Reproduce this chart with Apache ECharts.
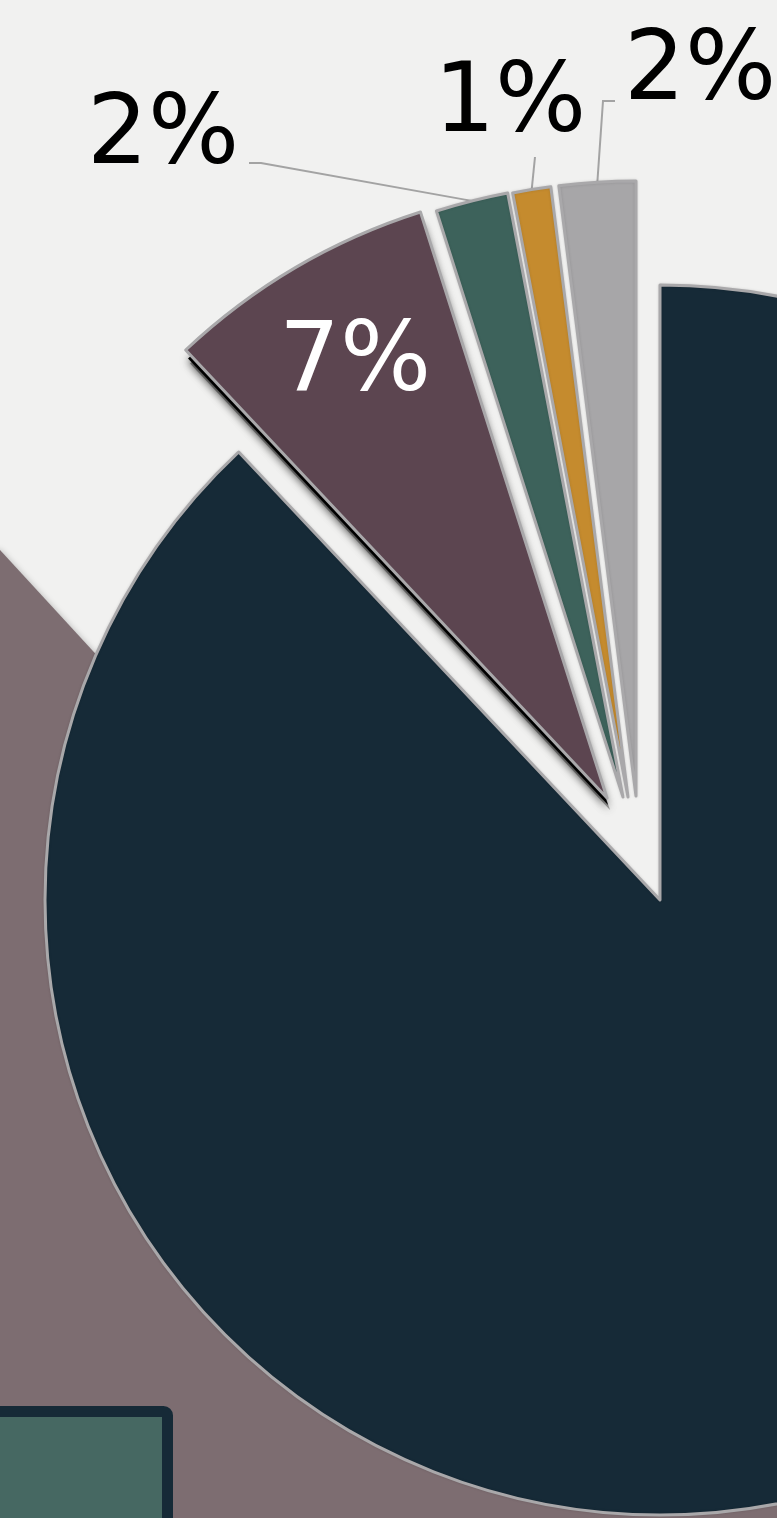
<!DOCTYPE html>
<html>
<head>
<meta charset="utf-8">
<script src="https://cdn.jsdelivr.net/npm/echarts@6/dist/echarts.min.js"></script>
<style>
  html, body { margin: 0; padding: 0; background: #f1f1f0; }
  #main { width: 777px; height: 1518px; }
</style>
</head>
<body>
<div id="main"></div>
<script>
// slice data (share of the whole, in %)
const names = ['Slice 1', 'Slice 2', 'Slice 3', 'Slice 4', 'Slice 5']
const values = [87.9, 7.1, 1.9, 1.0, 2.0]
const colors = ['#162a37', '#5c4550', '#3d625b', '#c58b2e', '#a7a6a8']

// every slice is pulled out on its own, so each one gets its own centre
const centers = [[660, 900], [607, 798], [623, 797], [628, 797], [636, 796]]
// label spots (left edge, middle of the digits) and the leader line bend
const labelSpots = [null, [279, 365], [87, 138], [434, 106], [624, 74]]
const leaderBends = [null, null, [[261, 163], [249, 163]], [[535, 157], [535, 157]], [[603, 101], [615, 101]]]

let myChart = echarts.init(document.getElementById('main'))

function hiddenItem (k) {
  return {
    name: names[k],
    value: values[k],
    itemStyle: { color: 'rgba(0,0,0,0)', borderWidth: 0, shadowBlur: 0 },
    label: { show: false },
    labelLine: { show: false }
  }
}

// black copies of the 7% slice, dropped a few pixels down, as its shadow
function shadowSeries (dx, dy, alpha, z) {
  return {
    type: 'pie',
    center: [centers[1][0] + dx, centers[1][1] + dy],
    radius: 613,
    startAngle: 90,
    silent: true,
    z: z,
    label: { show: false },
    labelLine: { show: false },
    data: values.map((v, k) => k !== 1 ? hiddenItem(k) : {
      name: names[k],
      value: v,
      itemStyle: {
        color: 'rgba(0,0,0,' + alpha + ')',
        borderWidth: 0,
        shadowBlur: 8,
        shadowColor: 'rgba(0,0,0,0.6)',
        shadowOffsetY: 2
      }
    })
  }
}

function sliceSeries (i) {
  return {
    type: 'pie',
    center: centers[i],
    radius: 615,
    startAngle: 90,
    clockwise: true,
    avoidLabelOverlap: false,
    silent: true,
    z: i === 0 ? 2 : 4 + i,
    label: {
      show: i > 0,
      position: i === 1 ? 'inside' : 'outside',
      formatter: p => Math.round(p.percent) + '%',
      fontFamily: 'DejaVu Sans',
      fontSize: 96,
      color: i === 1 ? '#ffffff' : '#000000'
    },
    labelLine: {
      show: i > 1,
      lineStyle: { color: '#a3a3a3', width: 2 }
    },
    labelLayout: p => {
      if (p.dataIndex !== i || !labelSpots[i]) return {}
      let res = { x: labelSpots[i][0], y: labelSpots[i][1], align: 'left', verticalAlign: 'middle' }
      if (leaderBends[i]) {
        let start = p.labelLinePoints ? p.labelLinePoints[0] : leaderBends[i][0]
        res.labelLinePoints = [start, leaderBends[i][0], leaderBends[i][1]]
      }
      return res
    },
    data: values.map((v, k) => k !== i ? hiddenItem(k) : {
      name: names[k],
      value: v,
      itemStyle: {
        color: colors[k],
        borderColor: '#a9a8aa',
        borderWidth: 3,
        borderJoin: 'round',
        shadowBlur: i === 1 ? 0 : 3,
        shadowColor: 'rgba(0,0,0,0.12)'
      }
    })
  }
}

let option = {
  backgroundColor: '#f1f1f0',
  animation: false,
  // decoration behind the pie
  graphic: [
    {
      type: 'polygon',
      z: 0,
      silent: true,
      shape: { points: [[0, 550], [1500, 2181], [-20, 2181], [-20, 550]] },
      style: { fill: '#7d6d71', shadowBlur: 6, shadowColor: 'rgba(0,0,0,0.25)' }
    },
    {
      type: 'rect',
      z: 1,
      silent: true,
      shape: { x: -30, y: 1411.5, width: 197.5, height: 200, r: 4 },
      style: { fill: '#466862', stroke: '#162a37', lineWidth: 11 }
    }
  ],
  series: [
    sliceSeries(0),
    shadowSeries(3, 12, 0.35, 3),
    shadowSeries(1, 7, 1, 4)
  ].concat([1, 2, 3, 4].map(sliceSeries))
}
myChart.setOption(option)
</script>
</body>
</html>
